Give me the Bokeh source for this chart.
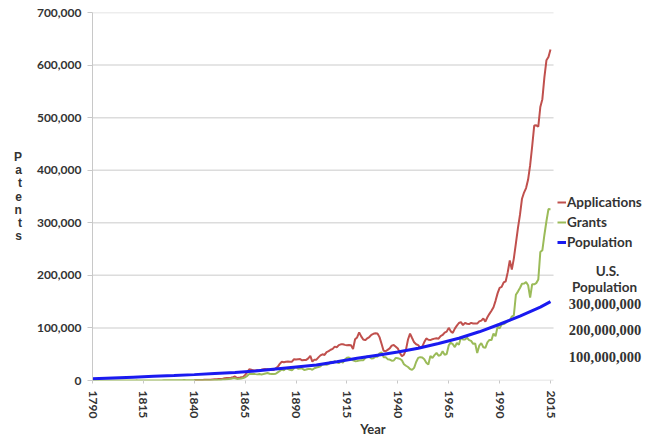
import math
from bokeh.plotting import figure
from bokeh.models import (ColumnDataSource, Range1d, FixedTicker,
                          NumeralTickFormatter, Legend, LegendItem, Label)
from bokeh.embed import file_html
from bokeh.resources import INLINE

# ---------------- data ----------------
grant_years = list(range(1790, 2016))
grants = [
    3, 33, 11, 20, 22, 12, 44, 51, 28, 44,
    41, 44, 65, 97, 84, 57, 63, 99, 158, 203,
    223, 215, 238, 181, 210, 173, 206, 174, 222, 156,
    155, 168, 200, 173, 228, 304, 323, 331, 368, 447,
    544, 573, 474, 586, 630, 752, 702, 426, 514, 404,
    458, 490, 488, 493, 478, 473, 566, 495, 583, 984,
    883, 752, 885, 844, 1755, 1881, 2302, 2674, 3455, 4160,
    4357, 3020, 3214, 3773, 4630, 6088, 8863, 12277, 12526, 12931,
    12137, 11659, 12180, 11616, 12230, 13291, 14169, 12920, 12345, 12133,
    12903, 15548, 18135, 21196, 19147, 23331, 21797, 20429, 19585, 23360,
    25313, 22312, 22661, 22768, 19875, 20856, 21867, 22098, 20404, 23278,
    24644, 25546, 27136, 31029, 30258, 29775, 31170, 35859, 32757, 36574,
    35141, 32856, 36198, 33917, 39892, 43118, 43892, 40935, 38452, 36797,
    37060, 37798, 38369, 38616, 42584, 46432, 44733, 41717, 42357, 45267,
    45226, 51756, 53504, 44452, 44420, 40618, 39831, 37683, 38061, 43073,
    42238, 41109, 38514, 31054, 28053, 25695, 21803, 20139, 23963, 35131,
    43040, 44384, 43616, 40468, 33809, 30432, 46817, 42744, 48330, 52408,
    47170, 48368, 55691, 48971, 50389, 66647, 71886, 69098, 63493, 71350,
    67964, 81790, 78185, 78072, 81278, 76810, 75388, 69781, 70514, 52413,
    66170, 71064, 63276, 62015, 72650, 77245, 76862, 89385, 84272, 102533,
    99077, 106696, 107394, 109746, 113587, 113834, 121696, 124069, 163142, 169094,
    175983, 184057, 184375, 187015, 181302, 157718, 183187, 182899, 185224, 191927,
    244341, 247713, 276788, 302948, 326033, 325979,
]

app_years = list(range(1840, 2016))
applications = [
    765, 847, 761, 819, 1045, 1246, 1272, 1531, 1628, 1955,
    2193, 2258, 2639, 2673, 3328, 4435, 4960, 4771, 5364, 6225,
    7653, 4643, 5038, 6014, 6932, 10664, 15269, 21276, 20445, 19271,
    19171, 19472, 18246, 20414, 21602, 21638, 21425, 20308, 20260, 20059,
    23012, 26059, 31522, 35577, 34697, 35717, 35968, 35613, 35797, 40575,
    40073, 40552, 40753, 38473, 39080, 39145, 42077, 46732, 35842, 39673,
    39673, 43973, 47760, 49838, 48600, 54034, 55843, 58421, 60142, 64408,
    63293, 67370, 68755, 69045, 67774, 67138, 67687, 67193, 59911, 78507,
    81915, 91617, 83956, 77911, 76735, 80142, 82662, 86915, 88826, 89752,
    89554, 82504, 70004, 56724, 55563, 58325, 61005, 66404, 67637, 64393,
    60863, 52339, 46250, 49040, 58730, 77973, 89138, 80870, 72628, 68882,
    67264, 61949, 64554, 73049, 80048, 77493, 76895, 78624, 79646, 80458,
    79590, 84407, 86562, 90982, 92971, 100150, 93482, 90544, 98737, 104357,
    109359, 111095, 105300, 109622, 108011, 107456, 109580, 108377, 108648, 108209,
    112379, 113966, 117987, 112040, 120276, 126788, 132665, 139455, 151491, 165748,
    176264, 178083, 186507, 188739, 206090, 228238, 211013, 232424, 261041, 289981,
    315015, 345732, 357531, 366043, 382139, 409532, 445613, 484955, 485312, 482871,
    520277, 535188, 576763, 609052, 615243, 629647,
]

# population line as drawn in the chart (read against its right-hand scale)
pop_years = [1790, 1800, 1810, 1820, 1830, 1840, 1850, 1860, 1870, 1880, 1890,
             1900, 1910, 1920, 1930, 1940, 1950, 1960, 1970, 1980, 1990, 2000,
             2010, 2015]
population = [14.2e6, 17.4e6, 20.6e6, 23.8e6, 27.0e6, 30.3e6, 34.5e6, 38.5e6,
              44.0e6, 52.0e6, 60.0e6, 67.5e6, 80.0e6, 93.0e6, 105.0e6, 117.0e6,
              132.0e6, 150.0e6, 170.0e6, 195.0e6, 224.0e6, 255.0e6, 290.0e6,
              311.0e6]

x_ticks = [1790, 1815, 1840, 1865, 1890, 1915, 1940, 1965, 1990, 2015]
y_ticks = [0, 100000, 200000, 300000, 400000, 500000, 600000, 700000]
pop_ticks = [100000000, 200000000, 300000000]
pop_tick_labels = [f"{v:,}" for v in pop_ticks]

# ---------------- figure ----------------
FONT = "Lato"
TXT = "#333333"
POP_RANGE = (7.7e6, 1423e6)
X0, X_DATA_END, X_FRAME_END = 1790, 2016.5, 2065.6
GRID = "#DCDCDC"

p = figure(width=653, height=440, output_backend="svg", toolbar_location=None,
           x_range=Range1d(X0, X_FRAME_END), y_range=Range1d(0, 700000),
           min_border_left=92, min_border_right=0, min_border_top=12,
           min_border_bottom=60, outline_line_color=None,
           background_fill_color="white", border_fill_color="white")
p.extra_y_ranges = {"pop": Range1d(*POP_RANGE)}
p.grid.visible = False

# horizontal grid lines, limited to the data area
p.segment(x0=[X0] * len(y_ticks), x1=[X_DATA_END] * len(y_ticks),
          y0=y_ticks, y1=y_ticks, line_color=GRID, line_width=1.5)

src_app = ColumnDataSource(dict(x=app_years, y=applications))
src_grant = ColumnDataSource(dict(x=grant_years, y=grants))
src_pop = ColumnDataSource(dict(x=pop_years, y=population))

r_app = p.line("x", "y", source=src_app, line_color="#C0504D", line_width=2)
r_grant = p.line("x", "y", source=src_grant, line_color="#9BBB59", line_width=2)
r_pop = p.line("x", "y", source=src_pop, y_range_name="pop",
               line_color="#1A1AF0", line_width=3)

# x axis
xa = p.xaxis[0]
xa.ticker = FixedTicker(ticks=x_ticks)
xa.major_label_orientation = -math.pi / 2
xa.axis_line_color = None
xa.major_tick_line_color = "#C8C8C8"
xa.major_tick_out = 3
xa.major_tick_in = 0
xa.minor_tick_line_color = None
xa.major_label_text_font = FONT
xa.major_label_text_font_style = "bold"
xa.major_label_text_font_size = "12px"
xa.major_label_text_color = TXT
xa.major_label_standoff = 7
xa.axis_label = "Year"
xa.axis_label_text_font = FONT
xa.axis_label_text_font_style = "bold"
xa.axis_label_text_font_size = "13px"
xa.axis_label_text_color = TXT
xa.axis_label_standoff = 0

# left axis
ya = p.yaxis[0]
ya.ticker = FixedTicker(ticks=y_ticks)
ya.formatter = NumeralTickFormatter(format="0,0")
ya.axis_line_color = "#C8C8C8"
ya.major_tick_line_color = "#C8C8C8"
ya.major_tick_out = 5
ya.major_tick_in = 0
ya.minor_tick_line_color = None
ya.major_label_text_font = FONT
ya.major_label_text_font_style = "bold"
ya.major_label_text_font_size = "12px"
ya.major_label_text_color = TXT
ya.major_label_standoff = 6
ya.axis_label = "P\na\nt\ne\nn\nt\ns"
ya.axis_label_orientation = "horizontal"
ya.axis_label_text_font = "Liberation Sans"
ya.axis_label_text_font_style = "bold"
ya.axis_label_text_font_size = "12px"
ya.axis_label_text_color = TXT
ya.axis_label_text_line_height = 0.95
ya.axis_label_standoff = 12

# population scale labels (right)
p.text(x=[2024.0] * len(pop_ticks), y=pop_ticks, text=pop_tick_labels,
       y_range_name="pop", text_font=FONT, text_font_style="bold",
       text_font_size="14.5px", text_color=TXT, text_align="left",
       text_baseline="middle")

p.add_layout(Label(x=607 - 92, y=380 - 270, x_units="screen", y_units="screen",
                   text="U.S.", text_font=FONT, text_font_style="bold",
                   text_font_size="13.5px", text_color=TXT,
                   text_align="center", text_baseline="middle"))
p.add_layout(Label(x=604 - 92, y=380 - 286, x_units="screen", y_units="screen",
                   text="Population", text_font=FONT, text_font_style="bold",
                   text_font_size="13.5px", text_color=TXT,
                   text_align="center", text_baseline="middle"))

legend = Legend(items=[LegendItem(label="Applications", renderers=[r_app]),
                       LegendItem(label="Grants", renderers=[r_grant]),
                       LegendItem(label="Population", renderers=[r_pop])],
                location=(465, 130), orientation="vertical",
                glyph_width=9, glyph_height=14, label_height=14, spacing=4,
                label_standoff=1, padding=0, margin=0,
                border_line_color=None, background_fill_alpha=0,
                label_text_font=FONT, label_text_font_style="bold",
                label_text_font_size="13.5px", label_text_color=TXT)
p.add_layout(legend, "center")

open("out.html", "w").write(file_html(p, INLINE))
